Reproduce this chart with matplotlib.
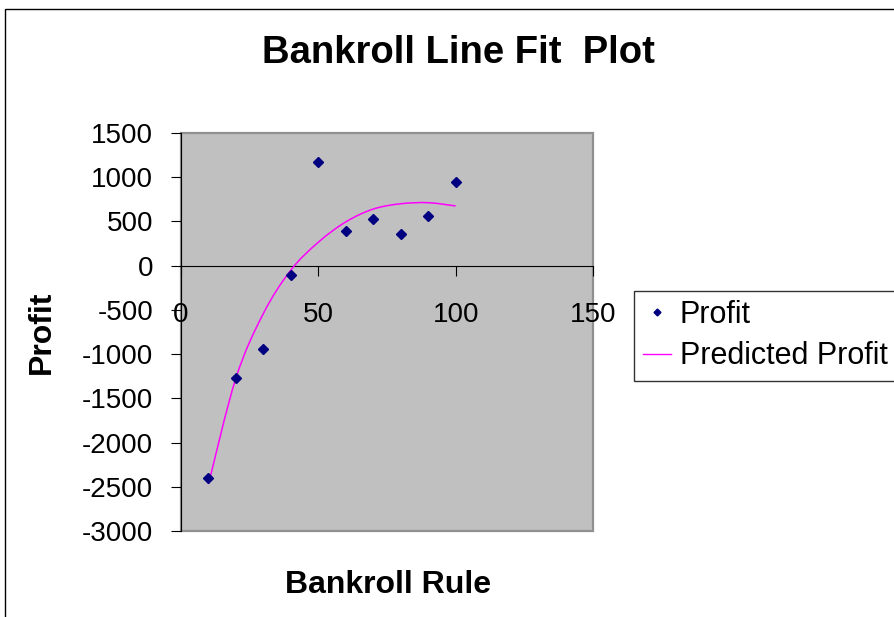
import numpy as np
import matplotlib
matplotlib.use("Agg")
import matplotlib.pyplot as plt
from matplotlib.path import Path
from matplotlib.patches import PathPatch, Rectangle
from matplotlib.lines import Line2D

plt.rcParams['font.family'] = ['Liberation Sans', 'DejaVu Sans']
plt.rcParams['axes.unicode_minus'] = False

# data
bankroll_rule = [10, 20, 30, 40, 50, 60, 70, 80, 90, 100]
profit = [-2405, -1274, -942, -102, 1176, 396, 525, 355, 559, 947]
predicted = [-2470, -1270, -540, -50, 265, 495, 640, 700, 712, 675]
x_ticks = [0, 50, 100, 150]
y_ticks = list(range(-3000, 1501, 500))

W, H = 895, 617
fig = plt.figure(figsize=(W / 100, H / 100), dpi=100)
ax = fig.add_axes([181 / W, 1 - 531 / H, 412 / W, 398 / H])
ax.set_facecolor('#C0C0C0')
ax.set_xlim(0, 150)
ax.set_ylim(-3000, 1500)


def smooth_path(xs, ys):
    # excel style smoothed line: catmull-rom turned into bezier segments
    pts = np.column_stack([xs, ys]).astype(float)
    verts = [pts[0]]
    codes = [Path.MOVETO]
    n = len(pts)
    for i in range(n - 1):
        p0 = pts[i - 1] if i > 0 else pts[i]
        p1, p2 = pts[i], pts[i + 1]
        p3 = pts[i + 2] if i + 2 < n else pts[i + 1]
        verts += [p1 + (p2 - p0) / 6, p2 - (p3 - p1) / 6, p2]
        codes += [Path.CURVE4] * 3
    return Path(verts, codes)


ax.add_patch(PathPatch(smooth_path(bankroll_rule, predicted), facecolor='none',
                       edgecolor='#FF00FF', lw=1.1, zorder=3))
ax.plot(bankroll_rule, profit, 'D', color='#000080', ms=5.5, zorder=4)

# axes look
ax.spines['bottom'].set_position(('data', 0))
ax.spines['bottom'].set_color('black')
ax.spines['left'].set_color('black')
ax.spines['top'].set_visible(False)
ax.spines['right'].set_visible(False)
ax.add_patch(Rectangle((0, 0), 1, 1, transform=ax.transAxes, fill=False,
                       edgecolor='#909090', lw=1.6, clip_on=False, zorder=1))
ax.set_xticks(x_ticks)
ax.set_yticks(y_ticks)
ax.tick_params(axis='x', direction='out', length=7, pad=19, labelsize=20)
ax.tick_params(axis='y', direction='out', length=7, pad=13, labelsize=20)

fig.text(458 / W, 1 - 53 / H, 'Bankroll Line Fit  Plot', ha='center', va='center',
         fontsize=27.5, fontweight='bold')
fig.text(388 / W, 1 - 585 / H, 'Bankroll Rule', ha='center', va='center',
         fontsize=23, fontweight='bold')
fig.text(42 / W, 1 - 332 / H, 'Profit', ha='center', va='center', rotation=90,
         fontsize=23, fontweight='bold')

handles = [Line2D([], [], ls='none', marker='D', color='#000080', ms=3.5),
           Line2D([], [], color='#FF00FF', lw=1)]
leg = fig.legend(handles, ['Profit', 'Predicted Profit'], loc='upper left',
                 bbox_to_anchor=(634 / W, 1 - 291 / H), borderaxespad=0,
                 fontsize=22, frameon=True, fancybox=False, edgecolor='black',
                 handlelength=0.9, handletextpad=0.3, borderpad=0.3,
                 labelspacing=0.37)
leg.get_frame().set_linewidth(1)

# chart area border (right/bottom edges fall outside the picture)
fig.add_artist(Rectangle((5 / W, -0.1), 1.2, 1.1 - 9 / H, transform=fig.transFigure,
                         fill=False, edgecolor='black', lw=1))

fig.savefig('out.png', dpi=100)
